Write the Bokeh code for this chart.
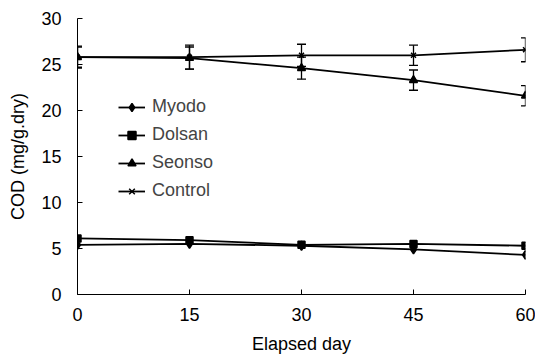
from bokeh.plotting import figure
from bokeh.models import ColumnDataSource, Whisker, TeeHead, Legend, LegendItem, Range1d, FixedTicker
from bokeh.embed import file_html
from bokeh.resources import INLINE

days = [0, 15, 30, 45, 60]
myodo = [5.4, 5.5, 5.3, 4.9, 4.3]
dolsan = [6.1, 5.9, 5.4, 5.5, 5.3]
seonso = [25.8, 25.7, 24.6, 23.3, 21.6]
control = [25.8, 25.8, 26.0, 26.0, 26.6]
seonso_err = [1.1, 1.2, 1.2, 1.1, 1.1]
control_err = [1.2, 1.3, 1.2, 1.1, 1.3]
x_ticks = [0, 15, 30, 45, 60]
y_ticks = [0, 5, 10, 15, 20, 25, 30]

FONT = "Liberation Sans"

p = figure(width=535, height=356, output_backend="svg", toolbar_location=None,
           x_range=Range1d(0, 60), y_range=Range1d(0, 30),
           min_border_left=77, min_border_right=10, min_border_top=18, min_border_bottom=50)
p.outline_line_color = None
p.xgrid.visible = False
p.ygrid.visible = False

for ax in (p.xaxis[0], p.yaxis[0]):
    ax.major_tick_in = 5
    ax.major_tick_out = 0
    ax.minor_tick_in = 0
    ax.minor_tick_out = 0
    ax.axis_line_color = "black"
    ax.major_tick_line_color = "black"
    ax.major_label_text_font = FONT
    ax.major_label_text_font_size = "18px"
    ax.major_label_text_color = "black"
    ax.axis_label_text_font = FONT
    ax.axis_label_text_font_size = "18px"
    ax.axis_label_text_font_style = "normal"
    ax.axis_label_text_color = "black"

p.xaxis.ticker = FixedTicker(ticks=x_ticks)
p.yaxis.ticker = FixedTicker(ticks=y_ticks)
p.xaxis.major_label_standoff = 13
p.yaxis.major_label_standoff = 16
p.xaxis.axis_label = "Elapsed day"
p.yaxis.axis_label = "COD (mg/g.dry)"
p.xaxis.axis_label_standoff = 10
p.yaxis.axis_label_standoff = 10

def errsrc(vals, errs):
    return ColumnDataSource(dict(x=days, upper=[v + e for v, e in zip(vals, errs)],
                                 lower=[v - e for v, e in zip(vals, errs)]))

for vals, errs in ((control, control_err), (seonso, seonso_err)):
    w = Whisker(source=errsrc(vals, errs), base="x", upper="upper", lower="lower",
                line_color="black", line_width=1.3,
                upper_head=TeeHead(size=9, line_color="black", line_width=1.3),
                lower_head=TeeHead(size=9, line_color="black", line_width=1.3))
    p.add_layout(w)

items = []
series = [("Myodo", myodo, "diamond", 9), ("Dolsan", dolsan, "square", 7),
          ("Seonso", seonso, "triangle", 8), ("Control", control, "x", 7)]
for name, vals, marker, size in series:
    r1 = p.line(days, vals, line_color="black", line_width=1.8)
    r2 = p.scatter(days, vals, marker=marker, size=size, fill_color="black",
                   line_color="black", line_width=1.5)
    items.append(LegendItem(label=name, renderers=[r1, r2]))

legend = Legend(items=items, location=(41, 93), border_line_color=None,
                background_fill_alpha=0, label_text_font=FONT, label_text_font_size="18px",
                glyph_width=27, glyph_height=20, label_height=20, spacing=7,
                label_standoff=7, padding=0, margin=0)
p.add_layout(legend)

open("out.html", "w").write(file_html(p, INLINE))
